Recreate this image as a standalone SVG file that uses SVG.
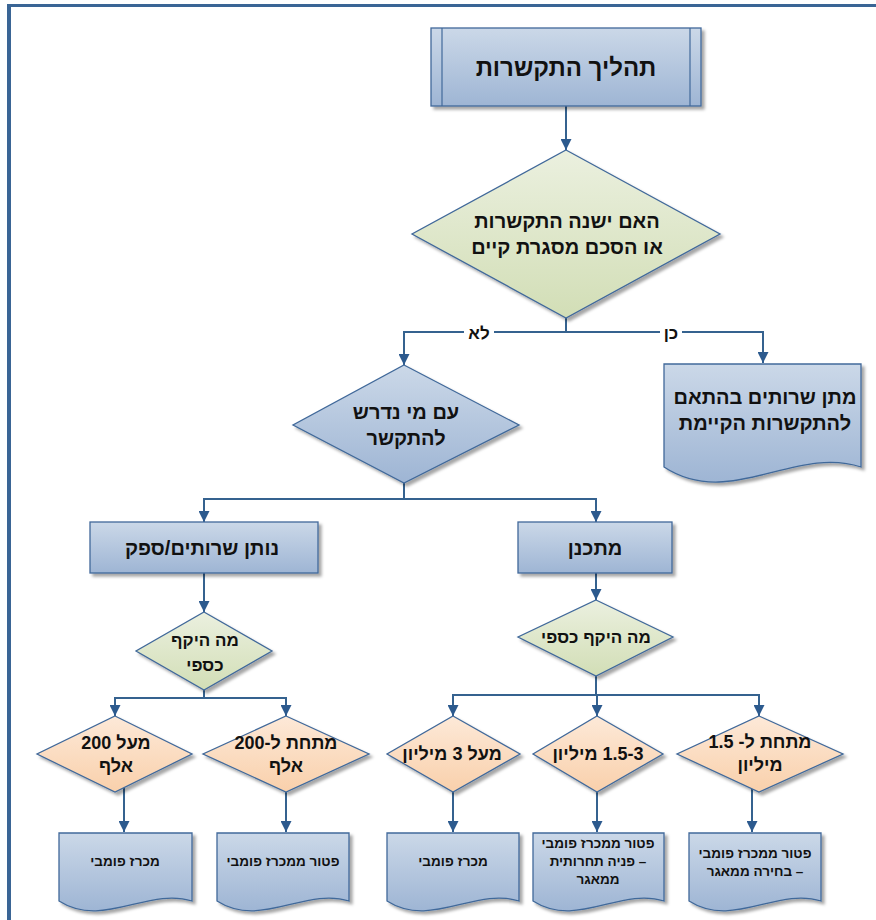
<svg xmlns="http://www.w3.org/2000/svg" width="876" height="920" viewBox="0 0 876 920">
<defs>
<linearGradient id="gBlue" x1="0" y1="0" x2="0" y2="1"><stop offset="0" stop-color="#cbd8e8"/><stop offset="1" stop-color="#9eb5d4"/></linearGradient>
<linearGradient id="gGreen" x1="0" y1="0" x2="0" y2="1"><stop offset="0" stop-color="#ebf0df"/><stop offset="1" stop-color="#d2deb6"/></linearGradient>
<linearGradient id="gOrange" x1="0" y1="0" x2="0" y2="1"><stop offset="0" stop-color="#fde9d8"/><stop offset="1" stop-color="#f9d0ab"/></linearGradient>
<filter id="sh" x="-10%" y="-10%" width="130%" height="130%"><feDropShadow dx="3" dy="3" stdDeviation="1.5" flood-color="#000" flood-opacity="0.35"/></filter>
<marker id="arr" viewBox="0 0 10 10" refX="10" refY="5" markerWidth="11" markerHeight="11" markerUnits="userSpaceOnUse" orient="auto"><path d="M0,0 L10,5 L0,10 z" fill="#2c5a8e"/></marker>
<style>
.blue{fill:url(#gBlue);stroke:#41699a;stroke-width:1.3;filter:url(#sh)}
.green{fill:url(#gGreen);stroke:#41699a;stroke-width:1.3;filter:url(#sh)}
.orange{fill:url(#gOrange);stroke:#41699a;stroke-width:1.3;filter:url(#sh)}
.t{font-family:"Liberation Sans","DejaVu Sans",Arial,sans-serif;font-weight:bold;fill:#111;text-anchor:middle;direction:rtl;unicode-bidi:embed}
.c{fill:none;stroke:#35628f;stroke-width:2}
.ca{fill:none;stroke:#35628f;stroke-width:2;marker-end:url(#arr)}
.lbl{font-family:"Liberation Sans","DejaVu Sans",Arial,sans-serif;font-weight:bold;fill:#111;text-anchor:middle;direction:rtl;font-size:17px}
</style>
</defs>
<rect width="876" height="920" fill="#fff"/>
<g id="frame" fill="none" stroke="#3a6595">
<line x1="9" y1="4" x2="9" y2="920" stroke-width="4"/>
<line x1="7" y1="5.5" x2="876" y2="5.5" stroke-width="3"/>
</g>

<g id="connectors">
<path class="ca" d="M566,106 V150"/>
<path class="c" d="M566,318 V332"/>
<path class="ca" d="M566,332 H404 V365"/>
<path class="ca" d="M566,332 H763 V363"/>
<path class="c" d="M404,483 V499"/>
<path class="ca" d="M404,499 H204 V522"/>
<path class="ca" d="M404,499 H596 V522"/>
<path class="ca" d="M204,573 V612"/>
<path class="ca" d="M596,573 V600"/>
<path class="c" d="M204,690 V698"/>
<path class="ca" d="M204,698 H115 V716"/>
<path class="ca" d="M204,698 H286 V716"/>
<path class="c" d="M596,676 V695"/>
<path class="ca" d="M596,695 H453 V716"/>
<path class="ca" d="M597,695 V716"/>
<path class="ca" d="M596,695 H759 V716"/>
<path class="ca" d="M124,788 V832"/>
<path class="ca" d="M286,792 V832"/>
<path class="ca" d="M453,792 V832"/>
<path class="ca" d="M597,792 V832"/>
<path class="ca" d="M752,789 V832"/>
<rect x="464" y="324" width="30" height="17" fill="#fff"/>
<rect x="660" y="324" width="22" height="17" fill="#fff"/>
<text class="lbl" x="479" y="339">לא</text>
<text class="lbl" x="671" y="339">כן</text>
</g>

<g id="start">
<rect class="blue" x="431" y="28" width="270" height="78"/>
<line x1="442" y1="28" x2="442" y2="106" stroke="#41699a" stroke-width="1.2"/>
<line x1="690" y1="28" x2="690" y2="106" stroke="#41699a" stroke-width="1.2"/>
<text class="t" x="566" y="76" font-size="24">תהליך התקשרות</text>
</g>

<g id="q-existing">
<polygon class="green" points="566,150 720,234 566,318 412,234"/>
<text class="t" x="567" y="228" font-size="20">האם ישנה התקשרות</text>
<text class="t" x="567" y="254" font-size="20">או הסכם מסגרת קיים</text>
</g>

<g id="existing-service">
<path class="blue" d="M664,364 H861 V467 C795,445 730,510 664,467 Z"/>
<text class="t" x="765" y="404" font-size="20">מתן שרותים בהתאם</text>
<text class="t" x="765" y="430" font-size="20">להתקשרות הקיימת</text>
</g>

<g id="q-whom">
<polygon class="blue" points="404,365 519,425 404,483 293,425"/>
<text class="t" x="406" y="419" font-size="20">עם מי נדרש</text>
<text class="t" x="406" y="445" font-size="20">להתקשר</text>
</g>

<g id="supplier">
<rect class="blue" x="90" y="522" width="228" height="51"/>
<text class="t" x="202" y="555" font-size="20">נותן שרותים/ספק</text>
</g>

<g id="planner">
<rect class="blue" x="518" y="522" width="154" height="51"/>
<text class="t" x="595" y="555" font-size="20">מתכנן</text>
</g>

<g id="q-scope-supplier">
<polygon class="green" points="204,612 272,651 204,690 136,651"/>
<text class="t" x="205" y="646" font-size="17">מה היקף</text>
<text class="t" x="205" y="671" font-size="17">כספי</text>
</g>

<g id="q-scope-planner">
<polygon class="green" points="596,600 673,637 596,676 518,637"/>
<text class="t" x="596" y="643" font-size="17">מה היקף כספי</text>
</g>

<g id="over-200">
<polygon class="orange" points="115,716 192,754 115,792 37,754"/>
<text class="t" x="116" y="749" font-size="18">מעל 200</text>
<text class="t" x="116" y="772" font-size="18">אלף</text>
</g>

<g id="under-200">
<polygon class="orange" points="286,716 369,754 286,792 203,754"/>
<text class="t" x="286" y="749" font-size="18">מתחת ל-200</text>
<text class="t" x="286" y="772" font-size="18">אלף</text>
</g>

<g id="over-3m">
<polygon class="orange" points="453,716 520,754 453,792 387,754"/>
<text class="t" x="452" y="760" font-size="18">מעל 3 מיליון</text>
</g>

<g id="mid-range">
<polygon class="orange" points="597,716 663,754 597,792 533,754"/>
<text class="t" x="598" y="760" font-size="18">1.5-3 מיליון</text>
</g>

<g id="under-1-5m">
<polygon class="orange" points="759,716 843,754 759,792 677,754"/>
<text class="t" x="760" y="748" font-size="18">מתחת ל- 1.5</text>
<text class="t" x="760" y="771" font-size="18">מיליון</text>
</g>

<g id="doc-tender-1">
<path class="blue" d="M59,833 H192 V901 C148,887 103,929 59,901 Z"/>
<text class="t" x="125" y="866" font-size="13.5">מכרז פומבי</text>
</g>

<g id="doc-exempt-1">
<path class="blue" d="M217,833 H349 V901 C305,887 261,929 217,901 Z"/>
<text class="t" x="283" y="866" font-size="13.5">פטור ממכרז פומבי</text>
</g>

<g id="doc-tender-2">
<path class="blue" d="M387,833 H519 V901 C475,887 431,929 387,901 Z"/>
<text class="t" x="453" y="866" font-size="13.5">מכרז פומבי</text>
</g>

<g id="doc-exempt-competitive">
<path class="blue" d="M533,833 H664 V901 C620,887 577,929 533,901 Z"/>
<text class="t" x="598" y="848" font-size="13.5">פטור ממכרז פומבי</text>
<text class="t" x="598" y="866" font-size="13.5">– פניה תחרותית</text>
<text class="t" x="598" y="884" font-size="13.5">ממאגר</text>
</g>

<g id="doc-exempt-pool">
<path class="blue" d="M689,833 H821 V901 C777,887 733,929 689,901 Z"/>
<text class="t" x="755" y="858" font-size="13.5">פטור ממכרז פומבי</text>
<text class="t" x="755" y="876" font-size="13.5">– בחירה ממאגר</text>
</g>
</svg>
